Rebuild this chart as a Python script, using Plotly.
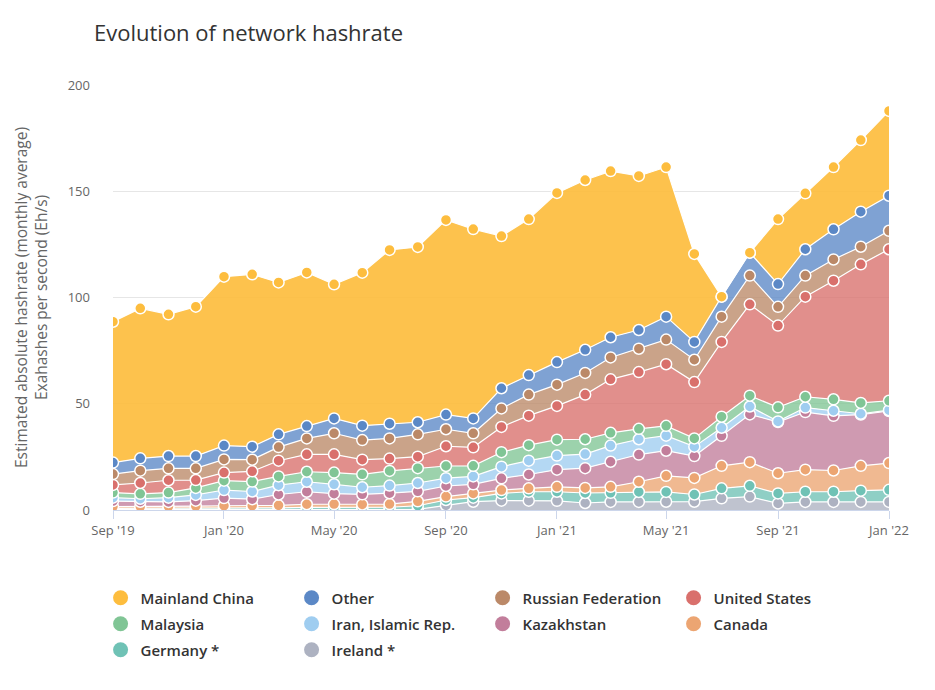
import plotly.graph_objects as go

months = [
    "2019-09-01", "2019-10-01", "2019-11-01", "2019-12-01",
    "2020-01-01", "2020-02-01", "2020-03-01", "2020-04-01",
    "2020-05-01", "2020-06-01", "2020-07-01", "2020-08-01",
    "2020-09-01", "2020-10-01", "2020-11-01", "2020-12-01",
    "2021-01-01", "2021-02-01", "2021-03-01", "2021-04-01",
    "2021-05-01", "2021-06-01", "2021-07-01", "2021-08-01",
    "2021-09-01", "2021-10-01", "2021-11-01", "2021-12-01",
    "2022-01-01",
]

# monthly average hashrate by country, EH/s
ireland = [0.2, 0.2, 0.2, 0.2, 0.2, 0.2, 0.2, 0.3, 0.3, 0.3, 0.3, 0.3,
           2.2, 3.9, 4.4, 4.4, 4.3, 3.3, 3.8, 3.8, 3.9, 3.9, 5.5, 6.3,
           3.1, 3.8, 3.8, 3.8, 3.8]
germany = [0.6, 0.6, 0.6, 0.7, 0.8, 0.8, 0.8, 0.9, 0.9, 0.9, 1.0, 1.7,
           2.5, 1.9, 3.4, 4.2, 4.3, 4.7, 4.3, 4.7, 4.6, 3.4, 4.7, 5.1,
           4.7, 4.8, 4.8, 5.3, 5.7]
canada = [0.8, 0.8, 0.9, 0.9, 1.0, 1.0, 1.2, 1.5, 1.6, 1.4, 1.5, 2.1,
          1.6, 2.0, 1.6, 1.6, 2.3, 2.4, 2.8, 4.8, 7.6, 7.8, 10.6, 11.1,
          9.5, 10.4, 10.0, 11.7, 12.6]
kazakhstan = [2.6, 2.3, 2.1, 2.6, 3.6, 3.1, 5.1, 5.9, 4.9, 4.8, 5.1, 4.7,
              5.0, 4.3, 5.5, 6.5, 8.1, 9.3, 11.8, 12.8, 11.8, 10.3, 14.1, 22.5,
              24.1, 27.1, 25.7, 24.1, 24.5]
iran = [1.6, 1.4, 2.0, 2.7, 3.8, 3.6, 4.4, 4.7, 4.4, 3.3, 3.6, 3.9,
        3.7, 3.7, 5.5, 6.5, 6.6, 6.6, 7.6, 7.2, 7.1, 4.4, 3.8, 3.7,
        0.3, 2.1, 2.4, 0.4, 0.4]
malaysia = [2.4, 2.3, 2.4, 3.3, 4.4, 4.7, 4.1, 4.7, 5.5, 6.1, 6.9, 7.0,
            5.7, 5.0, 6.8, 7.3, 7.5, 7.0, 6.0, 4.9, 4.6, 3.9, 5.2, 5.1,
            6.6, 5.1, 5.4, 5.1, 4.4]
united_states = [3.6, 5.1, 5.8, 3.7, 3.8, 4.8, 7.4, 8.2, 8.6, 6.9, 5.8, 5.4,
                 9.3, 8.7, 11.9, 13.9, 15.9, 21.0, 25.2, 26.7, 29.0, 26.5, 35.2, 43.0,
                 38.5, 47.1, 55.8, 65.2, 71.3]
russia = [5.1, 5.8, 5.6, 5.5, 6.2, 5.5, 6.4, 7.5, 9.9, 9.2, 9.5, 10.5,
          8.0, 6.6, 8.7, 9.9, 10.0, 10.2, 10.3, 11.0, 11.6, 10.5, 11.9, 13.5,
          8.8, 9.9, 10.0, 8.3, 8.7]
other = [5.4, 5.8, 5.8, 5.8, 6.5, 6.1, 6.0, 5.8, 7.0, 6.8, 6.9, 5.7,
         6.9, 7.0, 9.5, 9.2, 10.6, 10.9, 9.5, 8.8, 10.8, 8.4, 9.4, 10.8,
         10.7, 12.4, 14.2, 16.5, 16.5]
china = [66.3, 70.6, 66.7, 70.3, 79.5, 81.1, 71.5, 72.3, 63.1, 72.0, 81.8, 82.5,
         91.6, 89.1, 71.6, 73.4, 79.6, 79.9, 78.2, 72.5, 70.4, 41.4, None, None,
         30.6, 26.3, 29.3, 33.7, 39.9]

# bottom of the stack first
series = [
    ("Ireland *", ireland, "#adb2c1"),
    ("Germany *", germany, "#6fc2b5"),
    ("Canada", canada, "#eca572"),
    ("Kazakhstan", kazakhstan, "#c27e9b"),
    ("Iran, Islamic Rep.", iran, "#9fcdf0"),
    ("Malaysia", malaysia, "#80c595"),
    ("United States", united_states, "#d9706c"),
    ("Russian Federation", russia, "#bb8968"),
    ("Other", other, "#5b88c6"),
    ("Mainland China", china, "#fdbd3e"),
]

legend_rows = [
    ["Mainland China", "Other", "Russian Federation", "United States"],
    ["Malaysia", "Iran, Islamic Rep.", "Kazakhstan", "Canada"],
    ["Germany *", "Ireland *"],
]


def rgba(hex_color, a):
    h = hex_color.lstrip("#")
    r, g, b = int(h[0:2], 16), int(h[2:4], 16), int(h[4:6], 16)
    return f"rgba({r},{g},{b},{a})"


fig = go.Figure()
colors = {}
for name, vals, col in series:
    colors[name] = col
    fig.add_trace(go.Scatter(
        x=months, y=vals, name=name, stackgroup="one",
        mode="lines+markers",
        line=dict(color="white", width=1.2),
        fillcolor=rgba(col, 0.78 if name != "Mainland China" else 0.92),
        marker=dict(color=col, size=11, line=dict(color="white", width=1.5)),
        showlegend=False,
        hovertemplate="%{x|%b %Y}<br>" + name + ": %{y:.1f} Eh/s<extra></extra>",
    ))

# legend: one horizontal legend per row, circles only
legend_ids = ["legend", "legend2", "legend3"]
for lid, row in zip(legend_ids, legend_rows):
    for name in row:
        fig.add_trace(go.Scatter(
            x=[None], y=[None], name=name, mode="markers", legend=lid,
            marker=dict(color=colors[name], size=15),
        ))

legend_style = dict(orientation="h", x=-0.016, xanchor="left", yanchor="middle",
                    entrywidth=146, traceorder="normal", itemsizing="trace",
                    font=dict(size=15, color="#333333", weight=600),
                    bgcolor="rgba(0,0,0,0)")
row_y = [-(598 - 510) / 425, -(624 - 510) / 425, -(650 - 510) / 425]

fig.update_layout(
    width=935, height=690,
    margin=dict(l=105, r=54, t=77, b=188),
    paper_bgcolor="white", plot_bgcolor="white",
    font=dict(family="Open Sans, sans-serif", color="#666666"),
    title=dict(text="Evolution of network hashrate", x=86 / 935, xref="container",
               xanchor="left", y=1 - 25 / 690, yref="container", yanchor="middle",
               font=dict(size=22, color="#333333")),
    legend=dict(y=row_y[0], **legend_style),
    legend2=dict(y=row_y[1], **legend_style),
    legend3=dict(y=row_y[2], **legend_style),
    showlegend=True,
)
fig.update_xaxes(
    type="date", range=["2019-09-01", "2022-01-01"],
    tick0="2019-09-01", dtick="M4", tickformat="%b '%y",
    showgrid=False, showline=True, linecolor="#ccd6eb", linewidth=1,
    ticks="outside", ticklen=8, tickcolor="#ccd6eb",
    tickfont=dict(size=13, color="#666666"), zeroline=False,
)
fig.update_yaxes(
    range=[0, 200], dtick=50, showgrid=True, gridcolor="#e6e6e6",
    zeroline=False, showline=False, ticks="", ticklabelstandoff=22,
    tickfont=dict(size=13, color="#666666"),
    title=dict(text="Estimated absolute hashrate (monthly average)<br>Exahashes per second (Eh/s)",
               font=dict(size=15.5, color="#666666"), standoff=16),
)

fig.write_html("out.html")
